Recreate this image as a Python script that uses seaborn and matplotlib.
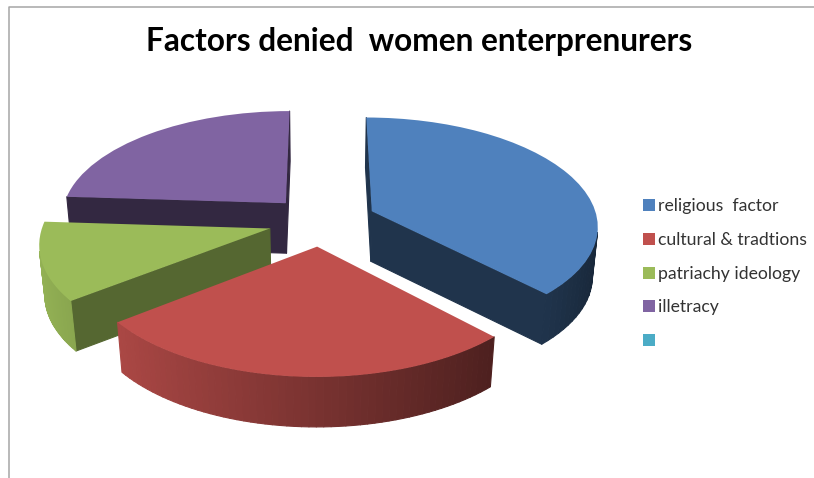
import numpy as np
import matplotlib
matplotlib.use("Agg")
import matplotlib.pyplot as plt
import seaborn as sns
from matplotlib.collections import PolyCollection
from matplotlib.transforms import Transform

# Share of respondents per factor; the last legend entry has no value
categories = ["religious  factor", "cultural & tradtions", "patriachy ideology", "illetracy", ""]
shares = [37.8, 26.7, 11.5, 24.0, 0.0]
colors = ["#4F81BD", "#C0504D", "#9BBB59", "#8064A2", "#4BACC6"]
radial_shade = [0.40, 0.40, 0.55, 0.40, 0.40]
explode = [0.245, 0.232, 0.235, 0.232, 0.0]
draw_order = [3, 2, 0, 1]
title = "Factors denied  women enterprenurers"

# Projection of the tilted pie onto the page (page units are pixels)
CX, CY = 321.0, 221.0
SX, SY = 226.0, 107.5
PERSPECTIVE = 0.1227
THICKNESS = 50.0
TAPER = 0.02


def project(u, v, z=0.0):
    u, v = np.asarray(u), np.asarray(v)
    w = 1.0 / (1.0 + PERSPECTIVE * v + TAPER * z)
    return CX + SX * u * w, CY - SY * v / (1.0 + PERSPECTIVE * v) + THICKNESS * z


class TiltedPie(Transform):
    input_dims = output_dims = 2

    def transform_non_affine(self, values):
        x, y = project(values[:, 0], values[:, 1])
        return np.column_stack([x, y])


def shaded(color, factor):
    return tuple(np.array(matplotlib.colors.to_rgb(color)) * factor)


def wall_quad(us, vs):
    x0, y0 = project(us, vs, 0.0)
    x1, y1 = project(us, vs, 1.0)
    return np.column_stack([np.r_[x0, x1[::-1]], np.r_[y0, y1[::-1]]])


def faces_viewer(quad):
    x, y = quad[:, 0], quad[:, 1]
    return np.sum(x * np.roll(y, -1) - np.roll(x, -1) * y) > 0


def side_faces(wedge, color, radial):
    """Collect the camera-facing wall quads of one slice, farthest first."""
    cu, cv = wedge.center
    angles = np.radians(np.linspace(wedge.theta1, wedge.theta2, 60))
    u = cu + np.cos(angles)
    v = cv + np.sin(angles)
    faces = []
    for i in range(len(angles) - 1):
        us = np.array([u[i], u[i + 1]])
        vs = np.array([v[i], v[i + 1]])
        factor = 0.63 - 0.33 * np.cos(angles[i:i + 2].mean())
        faces.append((vs.mean(), wall_quad(us, vs), shaded(color, factor)))
    # The two cut faces, walked in the same direction round the slice
    for us, vs in (([cu, u[0]], [cv, v[0]]), ([u[-1], cu], [v[-1], cv])):
        us, vs = np.array(us), np.array(vs)
        faces.append((vs.mean(), wall_quad(us, vs), shaded(color, radial)))
    faces = [f for f in faces if faces_viewer(f[1])]
    faces.sort(key=lambda face: -face[0])
    return [f[1] for f in faces], [f[2] for f in faces]


sns.set_theme(style="white")
plt.rcParams["font.family"] = ["Lato", "DejaVu Sans"]

fig = plt.figure(figsize=(8.14, 4.78), dpi=100, facecolor="white")
ax = fig.add_axes([0, 0, 1, 1])

wedges, _ = ax.pie(shares, colors=colors, explode=explode, startangle=90,
                   counterclock=False, radius=1.0, normalize=True)

ax.set_aspect("auto")
ax.set_xlim(0, 814)
ax.set_ylim(478, 0)
ax.axis("off")

page = TiltedPie() + ax.transData
for rank, index in enumerate(draw_order):
    wedge = wedges[index]
    quads, face_colors = side_faces(wedge, colors[index], radial_shade[index])
    walls = PolyCollection(quads, facecolors=face_colors, edgecolors=face_colors,
                           linewidths=0.8, zorder=2 + rank * 2, transform=ax.transData)
    ax.add_collection(walls)
    wedge.set_transform(page)
    wedge.set_zorder(3 + rank * 2)
    wedge.set_clip_on(False)
    wedge.set_linewidth(0)
wedges[4].set_visible(False)

# Chart-area frame: only the top and left edges fall inside the canvas
ax.plot([9, 9, 814], [478, 6.5, 6.5], color="#a6a6a6", lw=1.1, zorder=1, clip_on=False)

ax.text(419, 41, title, ha="center", va="center", fontsize=22.8, fontweight="bold",
        color="black")

handles = [plt.Rectangle((0, 0), 1, 1, facecolor=c, edgecolor="none") for c in colors]
ax.legend(handles, categories, loc="upper left", bbox_to_anchor=(643 / 814, 1 - 198.5 / 478),
          frameon=False, fontsize=12.7, handlelength=0.66, handleheight=0.66,
          handletextpad=0.18, labelspacing=1.0, borderpad=0, borderaxespad=0,
          labelcolor="#333333")

fig.savefig("out.png", dpi=100, facecolor="white")
